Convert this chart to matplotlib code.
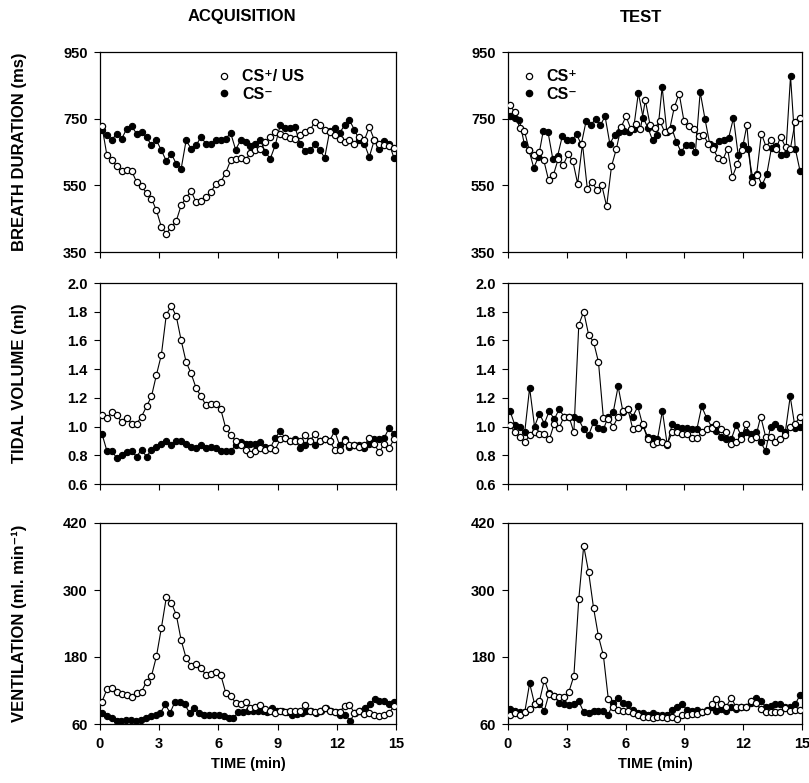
import numpy as np
import matplotlib
matplotlib.use("Agg")
import matplotlib.pyplot as plt
from matplotlib.lines import Line2D

plt.rcParams['font.family'] = ['Liberation Sans', 'DejaVu Sans']
plt.rcParams['font.weight'] = 'bold'

# ---------------- data ----------------
x_ticks = [0, 3, 6, 9, 12, 15]

# ACQUISITION - breath duration (ms)
acq_bd_plus = [727, 640, 627, 607, 592, 595, 593, 560, 547, 527, 510, 475, 425, 405, 425,
               443, 490, 513, 533, 500, 502, 515, 530, 555, 560, 588, 625, 630, 632, 625,
               648, 655, 658, 680, 695, 710, 705, 697, 693, 690, 700, 710, 715, 740, 730,
               717, 710, 700, 690, 680, 687, 675, 695, 685, 725, 687, 675, 670, 667, 663]
acq_bd_minus = [717, 700, 687, 705, 690, 720, 727, 705, 710, 695, 670, 685, 655, 623, 645,
                615, 600, 685, 660, 670, 695, 675, 673, 685, 687, 690, 707, 657, 685, 680,
                667, 675, 685, 650, 630, 670, 730, 723, 723, 725, 675, 652, 655, 673, 655,
                633, 713, 723, 707, 730, 745, 717, 685, 675, 635, 685, 660, 683, 675, 632]

# TEST - breath duration (ms)
test_bd_plus = [790, 770, 723, 713, 655, 640, 650, 625, 565, 582, 630, 610, 643, 623, 555,
                675, 540, 560, 535, 550, 487, 607, 659, 725, 757, 720, 733, 720, 805, 730,
                723, 743, 710, 715, 785, 825, 742, 727, 720, 697, 702, 675, 660, 633, 625,
                660, 575, 613, 655, 730, 560, 580, 705, 665, 687, 660, 695, 665, 660, 740, 753]
test_bd_minus = [757, 753, 745, 675, 655, 603, 635, 713, 710, 630, 637, 697, 685, 685, 703,
                 673, 742, 730, 750, 730, 757, 675, 700, 710, 713, 710, 720, 827, 753, 723,
                 685, 700, 845, 710, 723, 680, 650, 672, 672, 650, 830, 750, 675, 667, 683,
                 687, 693, 752, 640, 670, 660, 575, 585, 550, 583, 663, 667, 640, 645, 877,
                 660, 593]

# ACQUISITION - tidal volume (ml)
acq_tv_plus = [1.08, 1.06, 1.10, 1.08, 1.03, 1.06, 1.02, 1.02, 1.07, 1.14, 1.21, 1.36, 1.50,
               1.78, 1.84, 1.77, 1.60, 1.45, 1.37, 1.27, 1.21, 1.15, 1.16, 1.16, 1.12, 0.99,
               0.94, 0.90, 0.87, 0.84, 0.81, 0.83, 0.85, 0.84, 0.85, 0.84, 0.91, 0.92, 0.90,
               0.90, 0.90, 0.94, 0.90, 0.95, 0.90, 0.91, 0.90, 0.84, 0.84, 0.90, 0.87, 0.87,
               0.86, 0.87, 0.92, 0.88, 0.82, 0.88, 0.85, 0.91]
acq_tv_minus = [0.95, 0.83, 0.83, 0.78, 0.80, 0.82, 0.83, 0.79, 0.84, 0.79, 0.84, 0.86, 0.88,
                0.90, 0.87, 0.90, 0.90, 0.88, 0.86, 0.85, 0.87, 0.85, 0.86, 0.85, 0.83, 0.83,
                0.83, 0.87, 0.89, 0.88, 0.88, 0.88, 0.89, 0.86, 0.85, 0.92, 0.97, 0.92, 0.90,
                0.91, 0.85, 0.87, 0.90, 0.87, 0.90, 0.91, 0.90, 0.97, 0.87, 0.91, 0.86, 0.87,
                0.87, 0.85, 0.88, 0.91, 0.91, 0.92, 0.99, 0.95]

# TEST - tidal volume (ml)
test_tv_plus = [1.01, 0.96, 0.93, 0.89, 0.94, 0.96, 0.95, 0.95, 0.91, 1.02, 0.99, 1.07, 1.07,
                0.96, 1.71, 1.80, 1.64, 1.59, 1.45, 1.06, 1.05, 1.00, 1.07, 1.11, 1.12, 0.98,
                0.99, 1.02, 0.91, 0.88, 0.89, 0.89, 0.88, 0.96, 0.96, 0.95, 0.95, 0.92, 0.92,
                0.96, 0.98, 0.99, 1.02, 0.98, 0.96, 0.88, 0.89, 0.91, 1.02, 0.91, 0.93, 1.07,
                0.93, 0.93, 0.89, 0.91, 0.94, 1.00, 1.02, 1.07]
test_tv_minus = [1.11, 1.01, 1.00, 0.96, 1.27, 1.00, 1.09, 1.02, 1.11, 1.05, 1.12, 1.07, 1.07,
                 1.07, 1.05, 0.98, 0.94, 1.03, 0.99, 0.98, 1.07, 1.10, 1.28, 1.10, 1.12, 1.07,
                 1.14, 1.01, 0.93, 0.92, 0.91, 1.11, 0.87, 1.02, 1.00, 0.99, 0.99, 0.98, 0.98,
                 1.14, 1.06, 1.00, 0.97, 0.93, 0.91, 0.91, 1.01, 0.94, 0.96, 0.95, 0.96, 0.89,
                 0.83, 1.00, 1.02, 0.99, 0.96, 1.21, 0.99, 1.00]

# ACQUISITION - ventilation (ml/min)
acq_ve_plus = [100, 122, 125, 117, 114, 112, 108, 116, 118, 136, 146, 181, 232, 287, 277,
               256, 210, 178, 164, 168, 160, 148, 150, 154, 148, 116, 110, 98, 96, 100,
               89, 90, 94, 86, 83, 80, 83, 82, 83, 83, 84, 94, 83, 82, 84,
               88, 83, 82, 82, 92, 94, 80, 83, 78, 80, 77, 74, 76, 80, 92]
acq_ve_minus = [80, 74, 70, 66, 66, 68, 68, 66, 68, 70, 74, 77, 80, 95, 80,
                100, 100, 95, 80, 89, 80, 77, 77, 77, 76, 74, 71, 70, 82, 82,
                84, 83, 84, 84, 82, 88, 84, 84, 82, 77, 78, 80, 84, 83, 80,
                84, 88, 83, 82, 77, 76, 66, 80, 83, 89, 96, 104, 102, 101, 96, 100]

# TEST - ventilation (ml/min)
test_ve_plus = [77, 79, 77, 81, 87, 95, 101, 139, 114, 111, 108, 108, 118, 146, 284,
                379, 332, 268, 217, 183, 105, 90, 85, 84, 84, 79, 77, 73, 72, 71,
                72, 72, 71, 73, 69, 77, 77, 78, 78, 81, 84, 95, 105, 95, 91,
                107, 90, 90, 90, 102, 98, 87, 81, 81, 81, 81, 89, 84, 85, 85]
test_ve_minus = [87, 84, 81, 81, 133, 96, 95, 84, 116, 111, 97, 96, 94, 95, 101,
                 81, 79, 83, 84, 83, 77, 97, 107, 97, 95, 85, 79, 79, 77, 79,
                 77, 77, 77, 85, 91, 96, 85, 84, 85, 81, 85, 90, 84, 87, 83,
                 90, 87, 90, 90, 97, 107, 102, 91, 93, 95, 96, 91, 90, 95, 112]

rows = [
    dict(ylim=(350, 950), yticks=[350, 550, 750, 950], fmt="{:.0f}",
         ylabel="BREATH DURATION (ms)",
         left=(acq_bd_plus, acq_bd_minus), right=(test_bd_plus, test_bd_minus)),
    dict(ylim=(0.6, 2.0), yticks=[0.6, 0.8, 1.0, 1.2, 1.4, 1.6, 1.8, 2.0], fmt="{:.1f}",
         ylabel="TIDAL VOLUME (ml)",
         left=(acq_tv_plus, acq_tv_minus), right=(test_tv_plus, test_tv_minus)),
    dict(ylim=(60, 420), yticks=[60, 180, 300, 420], fmt="{:.0f}",
         ylabel="VENTILATION (ml. min\u207b\u00b9)",
         left=(acq_ve_plus, acq_ve_minus), right=(test_ve_plus, test_ve_minus)),
]

# ---------------- layout ----------------
W, H = 809, 783
fig = plt.figure(figsize=(W / 100, H / 100), dpi=100)

col_px = [(100, 396), (508, 802)]
row_px = [(52, 252), (283, 484), (523, 724)]

ms = 4.5
lw = 0.8
tick_font = dict(family=['Liberation Sans', 'DejaVu Sans'], weight='bold', size=10.5)


def draw(ax, plus, minus):
    t_minus = np.linspace(0.1, 14.9, len(minus))
    t_plus = np.linspace(0.1, 14.9, len(plus))
    ax.plot(t_minus, minus, '-o', color='black', lw=lw, ms=ms,
            mfc='black', mec='black', mew=0.8, zorder=2)
    ax.plot(t_plus, plus, '-o', color='black', lw=lw, ms=ms,
            mfc='white', mec='black', mew=0.9, zorder=3)


for r, row in enumerate(rows):
    top, bot = row_px[r]
    for c, key in enumerate(['left', 'right']):
        l, rgt = col_px[c]
        ax = fig.add_axes([l / W, 1 - bot / H, (rgt - l) / W, (bot - top) / H])
        plus, minus = row[key]
        draw(ax, plus, minus)
        ax.set_xlim(0, 15)
        ax.set_ylim(*row['ylim'])
        ax.set_xticks(x_ticks)
        ax.set_yticks(row['yticks'])
        ax.set_yticklabels([row['fmt'].format(v) for v in row['yticks']], **tick_font)
        if r == 2:
            ax.set_xticklabels([str(v) for v in x_ticks], **tick_font)
            ax.set_xlabel("TIME (min)", fontsize=10.5, fontweight='bold', labelpad=5)
        else:
            ax.set_xticklabels([])
        ax.tick_params(direction='out', length=4, width=0.8, pad=5)
        for sp in ax.spines.values():
            sp.set_linewidth(0.9)
        if c == 0:
            ax.set_ylabel(row['ylabel'], fontsize=12, fontweight='bold')
            ax.yaxis.set_label_coords(-0.245, 0.5)

        if r == 0:
            h_plus = Line2D([], [], ls='none', marker='o', ms=ms, mfc='white', mec='black', mew=0.9)
            h_minus = Line2D([], [], ls='none', marker='o', ms=ms, mfc='black', mec='black')
            if c == 0:
                labels = ["CS\u207a/ US", "CS\u207b"]
                anchor = (0.35, 0.985)
            else:
                labels = ["CS\u207a", "CS\u207b"]
                anchor = (0.0, 0.985)
            ax.legend([h_plus, h_minus], labels, loc='upper left', bbox_to_anchor=anchor,
                      frameon=False, handlelength=0.8, handletextpad=0.7,
                      labelspacing=0.15, prop=dict(weight='bold', size=11.5))

fig.text(242 / W, 1 - 17 / H, "ACQUISITION", ha='center', va='center',
         fontsize=12, fontweight='bold')
fig.text(641 / W, 1 - 17 / H, "TEST", ha='center', va='center',
         fontsize=12, fontweight='bold')

fig.savefig("out.png", dpi=100)
